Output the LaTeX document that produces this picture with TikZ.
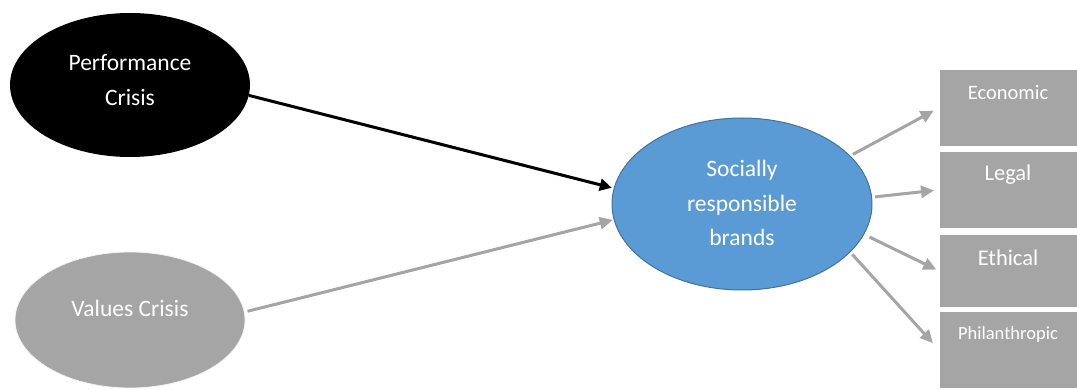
\documentclass[tikz,border=0pt]{standalone}
\usepackage{fontspec}
\setmainfont{Carlito}
\usetikzlibrary{shapes.geometric,arrows.meta}
\definecolor{crisisgray}{HTML}{A5A5A5}
\definecolor{brandblue}{HTML}{5B9BD5}
\definecolor{brandedge}{HTML}{41719C}
\begin{document}
\begin{tikzpicture}[x=1pt,y=-1pt,
  oval/.style={ellipse,inner sep=0pt},
  lbl/.style={text=white,align=center,inner sep=0pt},
  bigtxt/.style={font=\fontsize{23.5}{34.5}\selectfont},
  rbox/.style={rectangle,fill=crisisgray,draw=white,line width=0.8pt,
    minimum width=138pt,inner sep=0pt,anchor=north west},
  blackarrow/.style={line width=3pt,-{Triangle[length=12pt,width=12pt]}},
  grayarrow/.style={draw=crisisgray,line width=3pt,
    -{Triangle[length=13pt,width=12pt]}}]
  \useasboundingbox (0,0) rectangle (1077,390);

  % source ellipses
  \node[oval,fill=black,minimum width=240pt,minimum height=144pt] (perf) at (130,85) {};
  \node[lbl,bigtxt] (perftxt) at (130,80) {Performance\\Crisis};
  \node[oval,fill=crisisgray,draw=white!85!crisisgray,line width=0.8pt,
        minimum width=230pt,minimum height=136pt] (vals) at (130,320) {};
  \node[lbl,bigtxt] (valstxt) at (130,308) {Values Crisis};

  % central ellipse
  \node[oval,fill=brandblue,draw=brandedge,line width=1pt,
        minimum width=260pt,minimum height=172pt] (brand) at (742,204) {};
  \node[lbl,bigtxt] (brandtxt) at (742,203) {Socially\\responsible\\brands};

  % responsibility boxes
  \node[rbox,minimum height=77pt] (eco)  at (939,69)  {};
  \node[rbox,minimum height=77pt] (leg)  at (939,151) {};
  \node[rbox,minimum height=73pt] (eth)  at (939,234) {};
  \node[rbox,minimum height=77pt] (phil) at (939,311) {};
  \node[lbl,font=\fontsize{20.5}{24}\selectfont] (ecotxt)  at (1008,93)  {Economic};
  \node[lbl,font=\fontsize{22.5}{27}\selectfont] (legtxt)  at (1008,175) {Legal};
  \node[lbl,font=\fontsize{22.5}{27}\selectfont] (ethtxt)  at (1008,258) {Ethical};
  \node[lbl,font=\fontsize{18.5}{22}\selectfont] (philtxt) at (1008,335) {Philanthropic};

  % connectors
  \draw[blackarrow,shorten >=2pt] (perf.-5) -- (brand.173);
  \draw[grayarrow,shorten <=3pt,shorten >=1pt] (vals.4) -- (brand.187);
  \draw[grayarrow,shorten <=3pt,shorten >=6pt] (brand.24)  -- (eco.west);
  \draw[grayarrow,shorten <=3pt,shorten >=5pt] (brand.3)   -- (leg.west);
  \draw[grayarrow,shorten <=6pt,shorten >=3pt] (brand.-14) -- (eth.west);
  \draw[grayarrow,shorten <=3pt,shorten >=9pt] (brand.-24) -- (phil.west);
\end{tikzpicture}
\end{document}
